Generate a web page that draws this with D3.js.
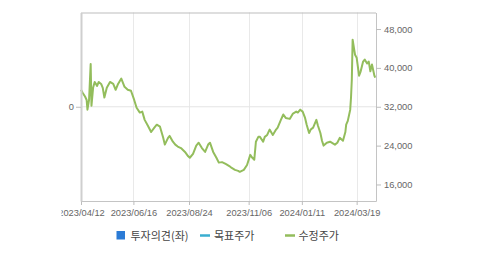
<!DOCTYPE html>
<html>
<head>
<meta charset="utf-8">
<script src="https://cdn.jsdelivr.net/npm/d3@7"></script>
<style>
  body { margin: 0; background: #fff; }
  svg { display: block; }
</style>
</head>
<body>
<div id="chart"></div>
<script>
//Price series (수정주가)
var dates = [
  "2023-04-12","2023-04-14","2023-04-17","2023-04-19","2023-04-20","2023-04-22","2023-04-24","2023-04-25",
  "2023-04-27","2023-04-29","2023-05-02","2023-05-04","2023-05-07","2023-05-09","2023-05-11","2023-05-14",
  "2023-05-18","2023-05-22","2023-05-25","2023-05-28","2023-06-01","2023-06-05","2023-06-09","2023-06-13",
  "2023-06-17","2023-06-20","2023-06-24","2023-06-27","2023-06-30","2023-07-04","2023-07-08","2023-07-12",
  "2023-07-15","2023-07-19","2023-07-23","2023-07-25","2023-07-29","2023-07-31","2023-08-04","2023-08-07",
  "2023-08-10","2023-08-14","2023-08-19","2023-08-23","2023-08-25","2023-08-29","2023-09-02","2023-09-05",
  "2023-09-09","2023-09-13","2023-09-17","2023-09-19","2023-09-23","2023-09-27","2023-09-30","2023-10-04",
  "2023-10-09","2023-10-13","2023-10-16","2023-10-20","2023-10-24","2023-10-26","2023-10-31","2023-11-04",
  "2023-11-08","2023-11-10","2023-11-13","2023-11-15","2023-11-18","2023-11-20","2023-11-24","2023-11-26",
  "2023-11-29","2023-12-02","2023-12-06","2023-12-10","2023-12-12","2023-12-16","2023-12-19","2023-12-22",
  "2023-12-27","2023-12-31","2024-01-04","2024-01-06","2024-01-09","2024-01-12","2024-01-15","2024-01-17",
  "2024-01-20","2024-01-22","2024-01-25","2024-01-29","2024-01-31","2024-02-03","2024-02-05","2024-02-07",
  "2024-02-11","2024-02-15","2024-02-19","2024-02-21","2024-02-24","2024-02-27","2024-03-02","2024-03-05",
  "2024-03-06","2024-03-08","2024-03-11","2024-03-12","2024-03-13","2024-03-14","2024-03-16","2024-03-17",
  "2024-03-19","2024-03-22","2024-03-24","2024-03-27","2024-03-29","2024-04-01","2024-04-03","2024-04-05",
  "2024-04-07","2024-04-10","2024-04-11"
];
var prices = [
  35500, 34900, 34100, 33400, 31400, 33400, 40800, 32200,
  35900, 37100, 36300, 37100, 36700, 35900, 33900, 35900,
  37100, 36700, 35500, 36700, 37800, 36100, 35500, 35300,
  33400, 31800, 30800, 31000, 29300, 28100, 26800, 27700,
  28300, 27900, 25600, 24200, 25600, 26000, 24800, 24200,
  23800, 23500, 22700, 21800, 21500, 22300, 24000, 24600,
  23500, 22700, 24300, 24600, 22700, 21500, 20500, 20600,
  20200, 19800, 19400, 19000, 18800, 18600, 19000, 20000,
  22100, 21600, 21100, 24800, 25800, 25800, 24800, 25800,
  26200, 27300, 26200, 27300, 27700, 29300, 30400, 29700,
  29500, 30600, 31000, 30800, 31400, 31000, 29700, 28300,
  26600, 27300, 27700, 29300, 28100, 26600, 25000, 24000,
  24600, 24800, 24400, 24200, 24600, 25600, 25000, 26800,
  28300, 29100, 31400, 33900, 37600, 45800, 43700, 42700,
  42100, 38400, 39300, 41300, 41700, 40900, 41300, 39300,
  40700, 38400, 38000
];

//Axis ticks
var xTickDates = ["2023-04-12", "2023-06-16", "2023-08-24", "2023-11-06", "2024-01-11", "2024-03-19"];
var priceTicks = [16000, 24000, 32000, 40000, 48000];
var opinionTicks = [0];

//Legend entries
var legendNames = ["투자의견(좌)", "목표주가", "수정주가"];

//SVG size and plot margins
var svgWidth = 479;
var svgHeight = 255;
var margin = { top: 12.5, right: 103, bottom: 54, left: 81 };
var width = svgWidth - margin.left - margin.right;
var height = svgHeight - margin.top - margin.bottom;

var parseDate = d3.timeParse("%Y-%m-%d");
var fmtDate = d3.timeFormat("%Y/%m/%d");

var data = dates.map(function(d, i) {
  return { date: parseDate(d), price: prices[i] };
});

var svg = d3.select("#chart")
  .append("svg")
  .attr("width", svgWidth)
  .attr("height", svgHeight);

//Clip for the bottom labels (the first date is cut at the left like in the original)
svg.append("defs").append("clipPath")
  .attr("id", "labelClip")
  .append("rect")
  .attr("x", 61.5 - margin.left)
  .attr("y", -50)
  .attr("width", svgWidth)
  .attr("height", 100);

var chartGroup = svg.append("g")
  .attr("transform", `translate(${margin.left}, ${margin.top})`);

//Scales
var xScale = d3.scaleTime()
  .domain([parseDate("2023-04-12"), parseDate("2024-04-12")])
  .range([0, width]);

var yScale = d3.scaleLinear()
  .domain([12600, 51400])
  .range([height, 0]);

var yLeftScale = d3.scaleLinear()
  .domain([-1, 1])
  .range([height, 0]);

//Vertical grid lines
chartGroup.append("g")
  .selectAll("line")
  .data(xTickDates.slice(1))
  .enter()
  .append("line")
  .attr("x1", d => Math.round(xScale(parseDate(d))) + 0.5)
  .attr("x2", d => Math.round(xScale(parseDate(d))) + 0.5)
  .attr("y1", 0)
  .attr("y2", height)
  .attr("stroke", "#e9e9e9");

//Horizontal grid line at left 0
chartGroup.append("line")
  .attr("x1", 0)
  .attr("x2", width)
  .attr("y1", yLeftScale(0))
  .attr("y2", yLeftScale(0))
  .attr("stroke", "#e4e4e4");

//Top border
chartGroup.append("line")
  .attr("x1", 0)
  .attr("x2", width)
  .attr("y1", 0.5)
  .attr("y2", 0.5)
  .attr("stroke", "#bdbdbd");

//Price line
var line = d3.line()
  .x(d => xScale(d.date))
  .y(d => yScale(d.price));

chartGroup.append("path")
  .datum(data)
  .attr("d", line)
  .attr("fill", "none")
  .attr("stroke", "#93bd5c")
  .attr("stroke-width", 2)
  .attr("stroke-linejoin", "round");

//Bottom axis
var xAxis = chartGroup.append("g")
  .attr("transform", `translate(0, ${height})`)
  .attr("clip-path", "url(#labelClip)")
  .call(d3.axisBottom(xScale)
    .tickValues(xTickDates.map(parseDate))
    .tickFormat(fmtDate)
    .tickSizeInner(4)
    .tickSizeOuter(0)
    .tickPadding(4));

//Right axis
var yAxis = chartGroup.append("g")
  .attr("transform", `translate(${width}, 0)`)
  .call(d3.axisRight(yScale)
    .tickValues(priceTicks)
    .tickFormat(d3.format(","))
    .tickSizeInner(5)
    .tickSizeOuter(0));

//Left axis
var yLeftAxis = chartGroup.append("g")
  .call(d3.axisLeft(yLeftScale)
    .tickValues(opinionTicks)
    .tickFormat(d3.format("d"))
    .tickSizeInner(5)
    .tickSizeOuter(0)
    .tickPadding(2));

chartGroup.selectAll(".domain")
  .attr("stroke", "#c4c4c4");
yLeftAxis.select(".domain").attr("stroke-width", 2).attr("stroke", "#cfcfcf");
chartGroup.selectAll(".tick line")
  .attr("stroke", "#bdbdbd");
chartGroup.selectAll(".tick text")
  .attr("fill", "#666")
  .attr("font-family", "Liberation Sans, Arial, sans-serif")
  .attr("font-size", "9.3px");

//Legend
var legend = svg.append("g")
  .attr("font-family", "Noto Sans CJK KR, sans-serif")
  .attr("font-size", "11px")
  .attr("fill", "#444");

legend.append("rect")
  .attr("x", 116.5)
  .attr("y", 231)
  .attr("width", 8.5)
  .attr("height", 8.5)
  .attr("fill", "#2b7bd6");

legend.append("line")
  .attr("x1", 200)
  .attr("x2", 210)
  .attr("y1", 235.5)
  .attr("y2", 235.5)
  .attr("stroke", "#3aaed0")
  .attr("stroke-width", 2.5);

legend.append("line")
  .attr("x1", 285)
  .attr("x2", 295)
  .attr("y1", 235.5)
  .attr("y2", 235.5)
  .attr("stroke", "#93bd5c")
  .attr("stroke-width", 2.5);

var legendX = [130.5, 214, 298.5];
legend.selectAll("text")
  .data(legendNames)
  .enter()
  .append("text")
  .attr("x", (d, i) => legendX[i])
  .attr("y", 239.5)
  .text(d => d);
</script>
</body>
</html>
